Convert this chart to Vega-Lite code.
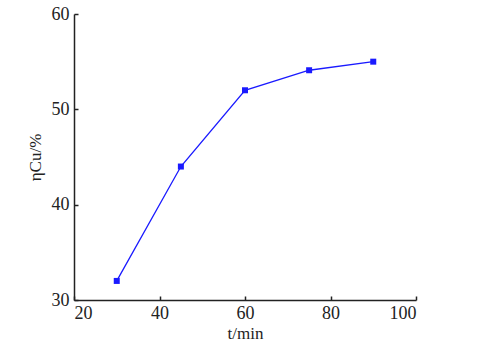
{
  "$schema": "https://vega.github.io/schema/vega-lite/v6.json",
  "width": 342,
  "height": 286,
  "autosize": "none",
  "padding": {"left": 74, "top": 14, "right": 84, "bottom": 47},
  "background": "white",
  "config": {
    "view": {"stroke": null},
    "font": "Liberation Serif",
    "axis": {
      "grid": false,
      "domainColor": "#222",
      "domainWidth": 1.5,
      "tickColor": "#222",
      "tickWidth": 1.5,
      "labelFont": "Liberation Serif",
      "labelFontSize": 18,
      "labelColor": "#222",
      "titleFont": "Liberation Serif",
      "titleFontSize": 17,
      "titleFontWeight": "normal",
      "titleColor": "#222"
    }
  },
  "data": {
    "values": [
      {"t": 30, "eta": 32.0},
      {"t": 45, "eta": 44.0},
      {"t": 60, "eta": 52.0},
      {"t": 75, "eta": 54.1},
      {"t": 90, "eta": 55.0}
    ]
  },
  "encoding": {
    "x": {
      "field": "t",
      "type": "quantitative",
      "scale": {"domain": [20, 100], "nice": false},
      "axis": {"values": [20, 40, 60, 80, 100], "tickSize": -4, "labelPadding": 8, "title": "t/min", "titlePadding": 3}
    },
    "y": {
      "field": "eta",
      "type": "quantitative",
      "scale": {"domain": [30, 60], "nice": false, "zero": false},
      "axis": {"values": [30, 40, 50, 60], "tickSize": -4, "labelPadding": 9, "title": "ηCu/%", "titlePadding": 7}
    }
  },
  "layer": [
    {"mark": {"type": "line", "color": "#1a1aff", "strokeWidth": 1.3}},
    {"mark": {"type": "square", "color": "#1a1aff", "filled": true, "opacity": 1, "size": 36}}
  ]
}
